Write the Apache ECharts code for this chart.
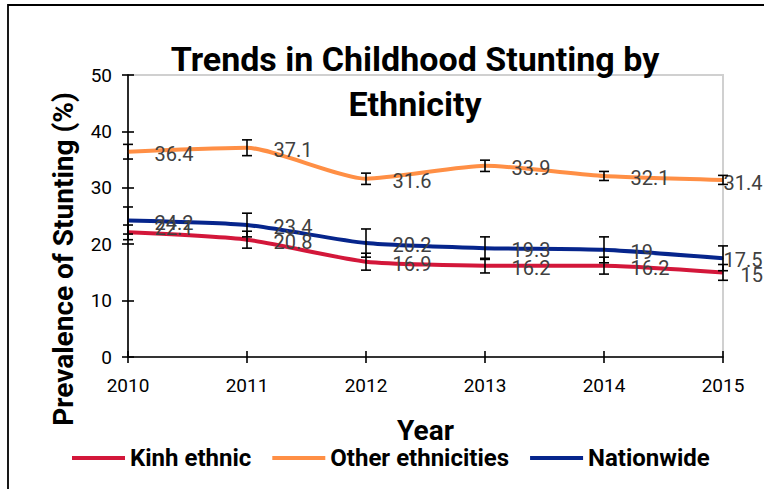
<!DOCTYPE html>
<html>
<head>
<meta charset="utf-8">
<script src="https://cdn.jsdelivr.net/npm/echarts@6/dist/echarts.min.js"></script>
<style>
html,body{margin:0;padding:0;background:#fff;}
#c{width:764px;height:489px;}
</style>
</head>
<body>
<div id="c"></div>
<script>
const years = ['2010', '2011', '2012', '2013', '2014', '2015'];
const kinh = [22.1, 20.8, 16.9, 16.2, 16.2, 15];
const other = [36.4, 37.1, 31.6, 33.9, 32.1, 31.4];
const nation = [24.2, 23.4, 20.2, 19.3, 19, 17.5];
const kinhErr = [1.3, 1.5, 1.5, 1.3, 1.5, 1.4];
const otherErr = [1.3, 1.4, 1.0, 1.0, 0.8, 0.8];
const nationErr = [2.4, 2.1, 2.5, 2.0, 2.3, 2.2];
const seriesNames = ['Kinh ethnic', 'Other ethnicities', 'Nationwide'];
const colors = ['#D3173A', '#FF8F45', '#06258C'];

const FONT = 'Roboto';
const chart = echarts.init(document.getElementById('c'), null, {renderer: 'svg'});

function errData(vals, errs) {
  return vals.map((v, i) => [i, v - errs[i], v + errs[i]]);
}
function errSeries(vals, errs) {
  return {
    type: 'custom',
    xAxisIndex: 0, yAxisIndex: 0,
    silent: true,
    z: 5,
    data: errData(vals, errs),
    renderItem: function (params, api) {
      const lo = api.coord([api.value(0), api.value(1)]);
      const hi = api.coord([api.value(0), api.value(2)]);
      const w = 5;
      const st = {stroke: '#000', lineWidth: 1.6};
      return {
        type: 'group',
        children: [
          {type: 'line', shape: {x1: lo[0], y1: lo[1], x2: hi[0], y2: hi[1]}, style: st},
          {type: 'line', shape: {x1: lo[0] - w, y1: lo[1], x2: lo[0] + w, y2: lo[1]}, style: st},
          {type: 'line', shape: {x1: hi[0] - w, y1: hi[1], x2: hi[0] + w, y2: hi[1]}, style: st}
        ]
      };
    }
  };
}
function labelData(vals, lastLabel, firstLabel) {
  return vals.map((v, i) => {
    if (i === vals.length - 1 && lastLabel) return {value: v, label: lastLabel};
    if (i === 0 && firstLabel) return {value: v, label: firstLabel};
    return v;
  });
}
function lineSeries(idx, vals, lastLabel, firstLabel) {
  return {
    name: seriesNames[idx],
    type: 'line',
    xAxisIndex: 0, yAxisIndex: 0,
    data: labelData(vals, lastLabel, firstLabel),
    smooth: 0.2,
    symbol: 'circle',
    symbolSize: 1,
    showSymbol: true,
    z: 3,
    itemStyle: {color: colors[idx]},
    lineStyle: {color: colors[idx], width: 4},
    label: {
      show: true,
      position: 'right',
      distance: 26,
      color: '#404040',
      fontFamily: FONT,
      fontSize: 20,
      offset: [0, 2]
    },
    emphasis: {disabled: true}
  };
}

const option = {
  animation: false,
  backgroundColor: '#fff',
  color: colors,
  title: {
    text: 'Trends in Childhood Stunting by\nEthnicity',
    left: 410,
    top: 31,
    textAlign: 'center',
    textStyle: {fontFamily: FONT, fontWeight: 'bold', fontSize: 34, lineHeight: 45, color: '#000'}
  },
  legend: {
    data: seriesNames,
    left: 72,
    top: 446,
    padding: 0,
    icon: 'rect',
    itemWidth: 53,
    itemHeight: 4,
    itemGap: 21,
    textStyle: {fontFamily: FONT, fontWeight: 'bold', fontSize: 24, color: '#000'}
  },
  grid: {
    left: 128, right: 41, top: 75, bottom: 132,
    show: true, borderColor: '#D0D0D0', borderWidth: 2, backgroundColor: 'transparent'
  },
  graphic: [
    {
      type: 'rect', z: -1, silent: true,
      shape: {x: 8, y: 5, width: 800, height: 520},
      style: {fill: 'none', stroke: '#000', lineWidth: 1.8}
    },
    {
      type: 'text', silent: true,
      x: 63, y: 259, rotation: Math.PI / 2,
      style: {
        text: 'Prevalence of Stunting (%)',
        fontFamily: FONT, fontWeight: 'bold', fontSize: 28,
        fill: '#000', align: 'center', verticalAlign: 'middle'
      }
    }
  ],
  xAxis: [
    {
      type: 'category',
      data: years,
      boundaryGap: false,
      name: 'Year',
      nameLocation: 'middle',
      nameGap: 58,
      nameTextStyle: {fontFamily: FONT, fontWeight: 'bold', fontSize: 28, lineHeight: 30, color: '#000'},
      axisLine: {lineStyle: {color: '#000', width: 1.6}},
      axisTick: {length: 6, lineStyle: {color: '#000', width: 1.6}},
      axisLabel: {fontFamily: FONT, fontSize: 19, color: '#000', margin: 19},
      splitLine: {show: false}
    },
    {
      type: 'category',
      data: years,
      boundaryGap: false,
      position: 'top',
      offset: -282,
      axisLine: {show: false},
      axisTick: {length: 6, lineStyle: {color: '#000', width: 1.6}},
      axisLabel: {show: false},
      splitLine: {show: false}
    }
  ],
  yAxis: [
    {
      type: 'value',
      min: 0, max: 50, interval: 10,
      axisLine: {show: true, lineStyle: {color: '#000', width: 1.6}},
      axisTick: {show: true, length: 6, lineStyle: {color: '#000', width: 1.6}},
      axisLabel: {fontFamily: FONT, fontSize: 19, color: '#000', margin: 16},
      splitLine: {show: false}
    },
    {
      type: 'value',
      min: 0, max: 50, interval: 10,
      position: 'right',
      offset: -595,
      axisLine: {show: false},
      axisTick: {show: true, length: 6, lineStyle: {color: '#000', width: 1.6}},
      axisLabel: {show: false},
      splitLine: {show: false}
    }
  ],
  series: [
    lineSeries(0, kinh, {distance: 17, offset: [0, 3]}, {offset: [0, -4]}),
    lineSeries(1, other, {distance: 0, offset: [0, 3]}),
    lineSeries(2, nation, {distance: 0, offset: [0, 2]}),
    errSeries(kinh, kinhErr),
    errSeries(other, otherErr),
    errSeries(nation, nationErr)
  ]
};
chart.setOption(option);
</script>
</body>
</html>
